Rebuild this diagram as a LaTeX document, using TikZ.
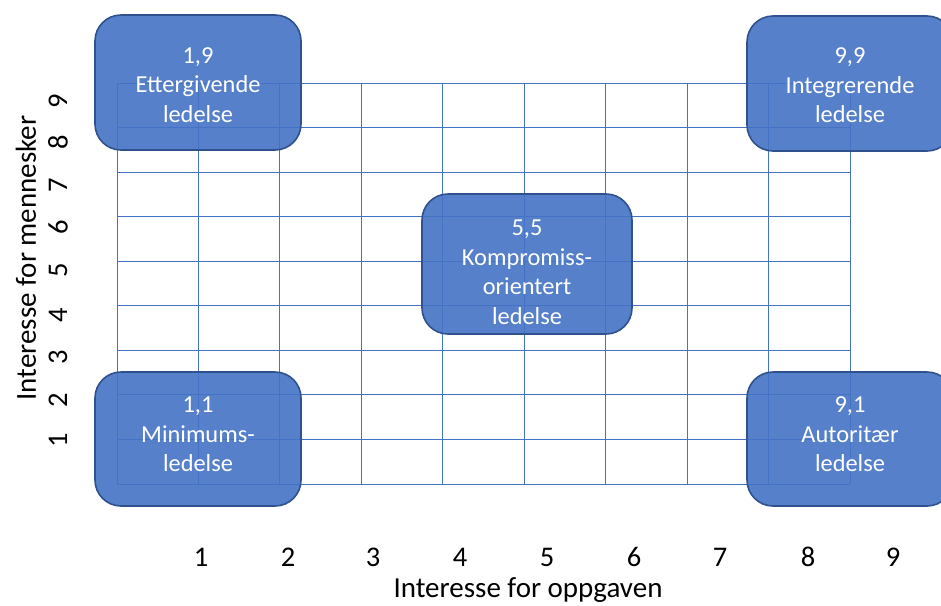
\documentclass[tikz,border=0pt]{standalone}
\usepackage{fontspec}
\setmainfont{Carlito}
\definecolor{gridblue}{HTML}{4472C4}
\definecolor{boxfill}{HTML}{4472C4}
\definecolor{boxline}{HTML}{2F528F}
\begin{document}
\begin{tikzpicture}[x=1pt,y=-1pt,
  gridline/.style={draw=gridblue, line width=0.9pt},
  stylebox/.style={draw=boxline, line width=1.6pt, fill=boxfill, fill opacity=0.9,
    rounded corners=26pt, inner sep=0pt},
  boxtext/.style={text=white, align=center, font=\fontsize{24.4}{29.5}\selectfont},
  axisnum/.style={font=\fontsize{28.5}{32}\selectfont, text=black},
  axistitle/.style={font=\fontsize{29}{32}\selectfont, text=black}]
  \useasboundingbox (0,0) rectangle (941,605);
  \clip (0,0) rectangle (941,605);

  % 9 x 9 grid
  \foreach \i in {0,...,9} {
    \draw[gridline] ({117+\i*81.44},83) -- ({117+\i*81.44},484);
    \draw[gridline] (117,{83+\i*44.56}) -- (850,{83+\i*44.56});
  }

  % style boxes
  \draw[stylebox] (95,15) rectangle (301,150);
  \coordinate (b19) at (198,85);
  \draw[stylebox] (95,372) rectangle (301,506);
  \coordinate (b11) at (198,434.5);
  \draw[stylebox] (422,194) rectangle (632,334);
  \coordinate (b55) at (527,272.5);
  \draw[stylebox] (747,16) rectangle (953,151);
  \coordinate (b99) at (850,85.5);
  \draw[stylebox] (747,372) rectangle (953,506);
  \coordinate (b91) at (850,434.5);

  \node[boxtext] (t19) at (b19) {1,9\\Ettergivende\\ledelse};
  \node[boxtext] (t11) at (b11) {1,1\\Minimums-\\ledelse};
  \node[boxtext] (t55) at (b55) {5,5\\Kompromiss-\\orientert\\ledelse};
  \node[boxtext] (t99) at (b99) {9,9\\Integrerende\\ledelse};
  \node[boxtext] (t91) at (b91) {9,1\\Autoritær\\ledelse};

  % vertical axis
  \foreach \n/\y in {1/440,2/400,3/357,4/315,5/270,6/227,7/185,8/142,9/101} {
    \node[axisnum, rotate=90] (v\n) at (58,\y) {\n};
  }
  \node[axistitle, rotate=90] (vt) at (26,258) {Interesse for mennesker};

  % horizontal axis
  \foreach \n/\x in {1/201,2/288,3/373,4/460,5/547,6/634,7/720,8/808,9/893} {
    \node[axisnum] (h\n) at (\x,557) {\n};
  }
  \node[axistitle] (ht) at (528,590) {Interesse for oppgaven};
\end{tikzpicture}
\end{document}
